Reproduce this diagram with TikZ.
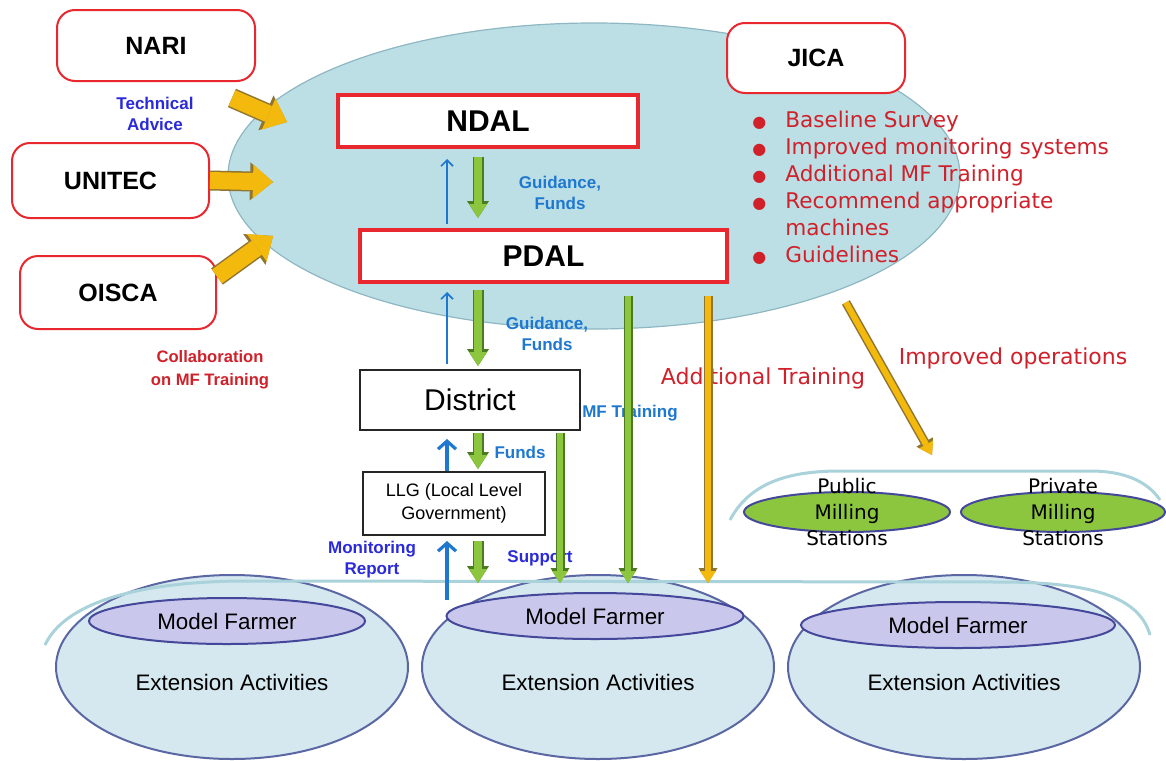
\documentclass[tikz,border=0pt]{standalone}
\usepackage{fontspec}
\setmainfont{Liberation Sans}
\newfontfamily\dejavu{DejaVu Sans}
\usetikzlibrary{arrows.meta,shapes.geometric}

\definecolor{boxred}{HTML}{E8282E}
\definecolor{skyfill}{HTML}{BCDFE5}
\definecolor{skyline}{HTML}{8DB7C2}
\definecolor{extfill}{HTML}{D5E8EF}
\definecolor{extline}{HTML}{5B67A3}
\definecolor{mffill}{HTML}{C9C8EC}
\definecolor{mfline}{HTML}{45489A}
\definecolor{leaf}{HTML}{8CC63F}
\definecolor{leafdark}{HTML}{4C7A20}
\definecolor{gold}{HTML}{F3B90C}
\definecolor{golddark}{HTML}{8F7530}
\definecolor{txtred}{HTML}{D0202A}
\definecolor{txtblue}{HTML}{1E78D0}
\definecolor{txtnavy}{HTML}{2A2ADA}
\definecolor{rim}{HTML}{A9D2DA}

\newcommand{\listdot}{{\fontsize{8}{8}\selectfont ●}}

\tikzset{
  hub/.style={ellipse, draw=skyline, fill=skyfill, line width=0.6pt, minimum width=366pt, minimum height=153pt},
  partner/.style={draw=boxred, line width=1pt, rounded corners=9pt, fill=white, font=\fontsize{12.5}{14}\selectfont\bfseries},
  agency/.style={draw=boxred, line width=2pt, fill=white, minimum height=26pt, font=\fontsize{15}{17}\selectfont\bfseries},
  office/.style={draw=black!85, line width=1pt, fill=white, align=center},
  extcircle/.style={ellipse, draw=extline, fill=extfill, line width=1pt, minimum width=176pt, minimum height=92pt},
  farmer/.style={ellipse, draw=mfline, fill=mffill, line width=1pt, minimum height=23pt, font=\fontsize{11.2}{13}\selectfont},
  extnote/.style={font=\fontsize{11.2}{13}\selectfont},
  mill/.style={ellipse, draw=mfline, fill=leaf, line width=1pt, minimum height=20pt},
  millnote/.style={font=\dejavu\fontsize{10}{13}\selectfont, align=center},
  rimline/.style={draw=rim, line width=1.5pt},
  redlabel/.style={text=txtred, font=\dejavu\fontsize{11}{13}\selectfont},
  bluenote/.style={text=txtblue, font=\fontsize{8.5}{10.5}\selectfont\bfseries, align=center},
  navynote/.style={text=txtnavy, font=\fontsize{8.5}{10.5}\selectfont\bfseries, align=center},
  rednote/.style={text=txtred, font=\fontsize{8.3}{11.5}\selectfont\bfseries, align=center},
  leafarrow/.style={draw=leaf, line width=4pt, -{Triangle[width=9pt,length=7pt,line width=0pt]},
    preaction={draw=leafdark, line width=5.5pt, -{Triangle[width=11pt,length=8.5pt,line width=0pt]}}},
  leaflong/.style={draw=leaf, line width=3pt, -{Triangle[width=8pt,length=6pt,line width=0pt]},
    preaction={draw=leafdark, line width=4.5pt, -{Triangle[width=9.5pt,length=7.5pt,line width=0pt]}}},
  goldlong/.style={draw=gold, line width=3pt, -{Triangle[width=8pt,length=6pt,line width=0pt]},
    preaction={draw=golddark, line width=4.5pt, -{Triangle[width=9.5pt,length=7.5pt,line width=0pt]}}},
  goldfat/.style={draw=gold, line width=8.5pt, -{Triangle[width=17pt,length=10pt,line width=0pt]},
    preaction={draw=golddark, line width=10pt, -{Triangle[width=19pt,length=11.5pt,line width=0pt]}}},
  thinblue/.style={draw=txtblue, line width=0.8pt, -{Straight Barb[length=3pt,width=6pt]}},
  blueup/.style={draw=txtblue, line width=1.6pt, -{Straight Barb[length=4pt,width=9pt]}}
}

\begin{document}
\begin{tikzpicture}[x=0.5pt,y=-0.5pt]
\useasboundingbox (0,0) rectangle (1166,760);

% central ellipse with NDAL and PDAL
\node[hub] (hub) at (594,176) {};
\node[agency, minimum width=150pt] (ndal) at (488,121) {NDAL};
\node[agency, minimum width=183.5pt] (pdal) at (543.5,256) {PDAL};

% partners
\node[partner, minimum width=99pt, minimum height=35.5pt] (nari) at (156,45.5) {NARI};
\node[partner, minimum width=98.5pt, minimum height=37.5pt] (unitec) at (110.5,180.5) {UNITEC};
\node[partner, minimum width=98pt, minimum height=36.5pt] (oisca) at (118,292.5) {OISCA};
\node[partner, minimum width=89pt, minimum height=35pt] (jica) at (816,58) {JICA};

\node[anchor=north west, inner sep=0pt, text=txtred, font=\dejavu\fontsize{10.8}{13.5}\selectfont] (jicalist) at (752,108) {%
  \begin{tabular}{@{}l@{\hspace{9.5pt}}l@{}}
  \listdot & Baseline Survey\\
  \listdot & Improved monitoring systems\\
  \listdot & Additional MF Training\\
  \listdot & Recommend appropriate\\
           & machines\\
  \listdot & Guidelines
  \end{tabular}};

% district and LLG
\node[office, minimum width=110pt, minimum height=30pt, font=\fontsize{15}{17}\selectfont] (district) at (470,400) {District};
\node[office, minimum width=91pt, minimum height=31.5pt, font=\fontsize{9}{11.5}\selectfont] (llg) at (454,503.5) {LLG (Local Level\\Government)};

% milling stations
\draw[rimline] (730,520) .. controls (750,482) and (790,471) .. (840,471) -- (1090,471) .. controls (1130,471) and (1150,485) .. (1160,500);
\node[mill, minimum width=103pt] (pubmill) at (847,512) {};
\node[mill, minimum width=102pt] (privmill) at (1063,512) {};
\node[millnote] at (pubmill) {Public\\Milling\\Stations};
\node[millnote] at (privmill) {Private\\Milling\\Stations};

% model farmers
\foreach \n/\x/\mx/\my/\mw in {1/232/227/621/138, 2/598/595/616/148.5, 3/964/958/625/157} {
  \node[extcircle] (ext\n) at (\x,667) {};
  \node[farmer, minimum width=\mw pt] (mf\n) at (\mx,\my) {Model Farmer};
  \node[extnote] at ([yshift=-7.5pt]ext\n.center) {Extension Activities};
}
\draw[rimline] (45,645) .. controls (65,602) and (140,582) .. (240,581) -- (1000,582) .. controls (1100,582) and (1140,600) .. (1150,635);

% labels
\node[navynote] (advice) at (155,114) {Technical\\Advice};
\node[rednote] (collab) at (210,370) {Collaboration\\on MF Training};
\node[bluenote] (guide1) at (560,193) {Guidance,\\Funds};
\node[bluenote] (guide2) at (547,334) {Guidance,\\Funds};
\node[bluenote] (funds) at (520,452) {Funds};
\node[bluenote] (mftrain) at (630,413) {MF Training};
\node[navynote] (monitor) at (372,560) {Monitoring\\Report};
\node[navynote] (support) at (540,558) {Support};
\node[redlabel] (addtrain) at (763,378) {Additional Training};
\node[redlabel] (improved) at (1013,358) {Improved operations};

% columns and free ends
\coordinate (gcol) at (478,0);
\coordinate (bcol) at (447,0);
\coordinate (dcol) at (560,0);
\coordinate (pcol) at (628,0);
\coordinate (ycol) at (708,0);
\coordinate (base) at (0,583);
\coordinate (foot) at (447,600);
\coordinate (in1) at (287,122);
\coordinate (in2) at (273,182);
\coordinate (in3) at (273,236);
\coordinate (opsend) at (932,455);

% partner arrows
\draw[goldfat] ([xshift=-12pt,yshift=-8pt]nari.south east) -- (in1);
\draw[goldfat] (unitec.east) -- (in2);
\draw[goldfat] ([yshift=8pt]oisca.east) -- (in3);

% chain NDAL - PDAL - District - LLG
\draw[leafarrow, shorten <=4pt, shorten >=5pt] (ndal.south -| gcol) -- (pdal.north -| gcol);
\draw[thinblue, shorten <=2pt, shorten >=5pt] (pdal.north -| bcol) -- (ndal.south -| bcol);
\draw[leafarrow, shorten <=3pt, shorten >=1.5pt] (pdal.south -| gcol) -- (district.north -| gcol);
\draw[thinblue, shorten <=2.5pt, shorten >=4pt] (district.north -| bcol) -- (pdal.south -| bcol);
\draw[leafarrow, shorten <=1pt, shorten >=1pt] (district.south -| gcol) -- (llg.north -| gcol);
\draw[blueup, shorten >=4pt] (llg.north -| bcol) -- (district.south -| bcol);
\draw[leafarrow, shorten <=2.5pt] (llg.south -| gcol) -- (base -| gcol);
\draw[blueup, shorten >=2.5pt] (foot) -- (llg.south -| bcol);

% long arrows to the farmers
\draw[leaflong, shorten <=1pt] (district.south -| dcol) -- (base -| dcol);
\draw[leaflong, shorten <=6pt] (pdal.south -| pcol) -- (base -| pcol);
\draw[goldlong, shorten <=6pt] (pdal.south -| ycol) -- (base -| ycol);
\draw[goldlong, shorten <=7pt] (hub.-25) -- (opsend);

\end{tikzpicture}
\end{document}
